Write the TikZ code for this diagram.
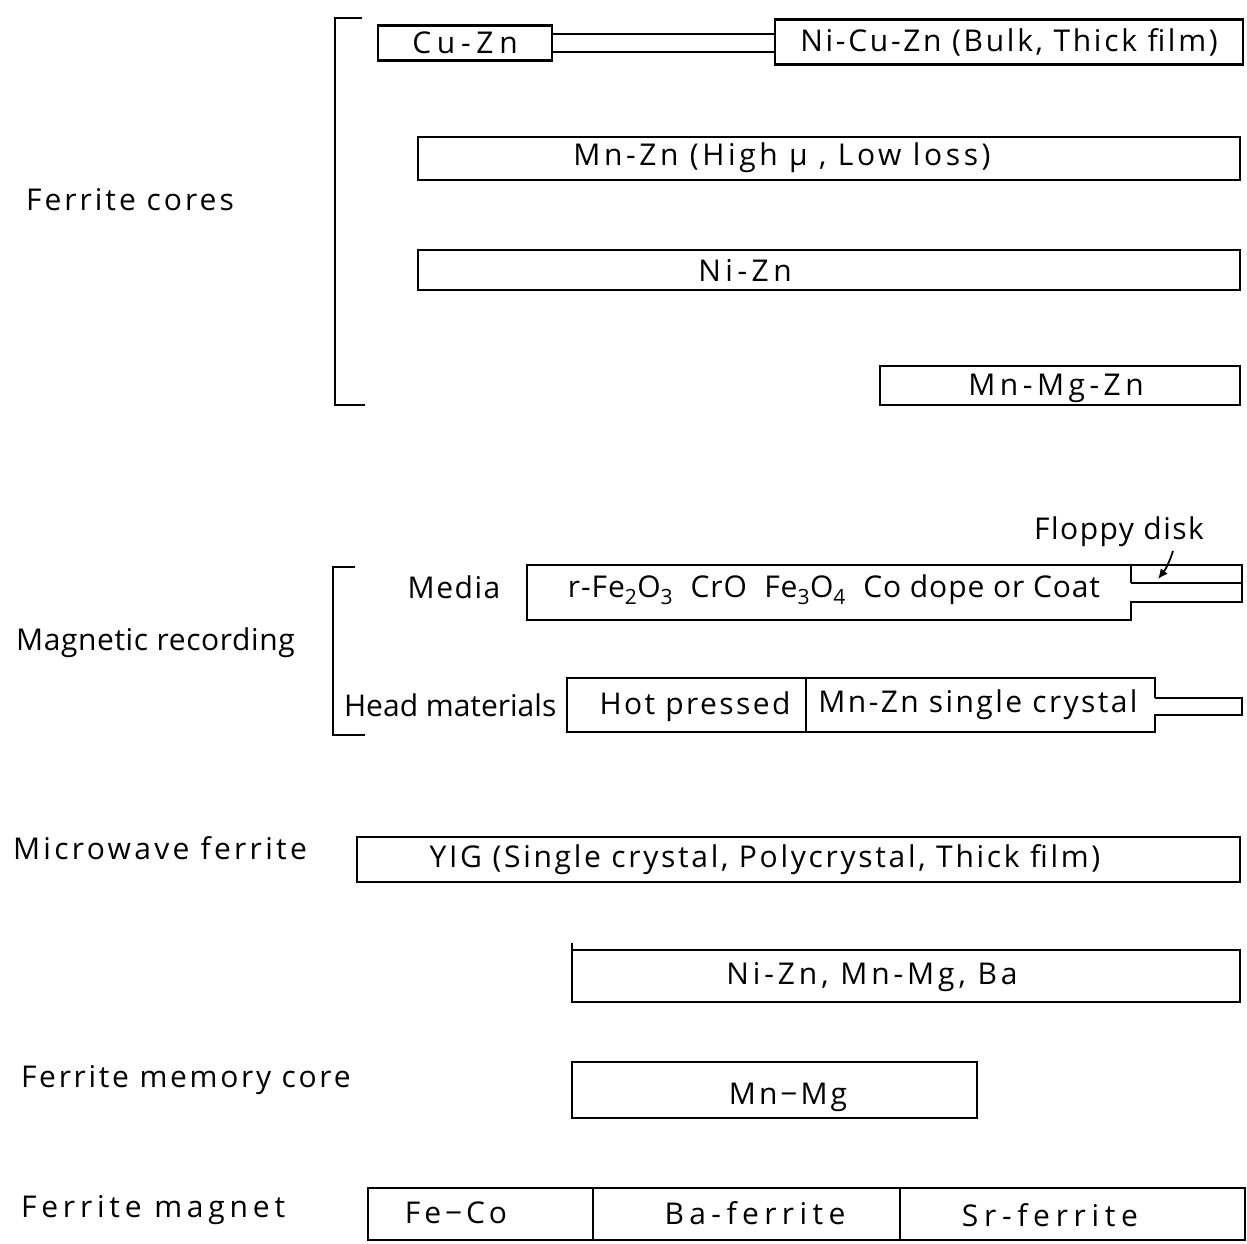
\documentclass[tikz,border=0pt]{standalone}
\usepackage{fontspec}
\setmainfont{Open Sans}
\newcommand\myfs{\fontsize{30}{36}\selectfont}
\usetikzlibrary{arrows.meta}
\begin{document}
\begin{tikzpicture}[x=1pt,y=-1pt,line width=2.2pt,line join=miter,
  box/.style={draw,rectangle,inner sep=0pt},
  lbl/.style={inner sep=0pt,font=\myfs\addfontfeature{LetterSpace=#1}},
  lbl/.default=0]
\useasboundingbox (0,0) rectangle (1247,1244);

% ---------- Ferrite cores ----------
\node[lbl=10,anchor=west] (fc) at (25,200) {Ferrite cores};
\draw (362,18) -- (335,18) -- (335,405) -- (365,405);
\node[box,lbl=19,minimum width=174pt,minimum height=35pt] (cuzn) at (465,43) {Cu-Zn};
\node[box,lbl=9,minimum width=468pt,minimum height=45pt] (nicuzn) at (1009,42) {Ni-Cu-Zn (Bulk, Thick film)};
\draw ([yshift=9pt]cuzn.east) -- ([yshift=9pt]cuzn.east -| nicuzn.west);
\draw ([yshift=-9pt]cuzn.east) -- ([yshift=-9pt]cuzn.east -| nicuzn.west);

\draw (418,137) rectangle (1240,180);
\node[lbl=12] (mnzn) at (782,158) {Mn-Zn (High μ , Low loss)};
\draw (418,250) rectangle (1240,290);
\node[lbl=15] (nizn) at (745,270) {Ni-Zn};
\draw (880,366) rectangle (1240,405);
\node[lbl=15] (mnmgzn) at (1056,388) {Mn-Mg-Zn};

% ---------- Magnetic recording ----------
\node[lbl=2,anchor=west] (mr) at (15,643) {Magnetic recording};
\draw (355,567) -- (333,567) -- (333,735) -- (365,735);
\node[lbl=5] (media) at (454,587) {Media};
\draw (1131,583) -- (1131,565) -- (527,565) -- (527,620) -- (1131,620) -- (1131,602)
      -- (1242,602) -- (1242,565) -- (1131,565);
\draw (1131,583) -- (1242,583);
\node[lbl=3] (mediatxt) at (834,590) {r-Fe\textsubscript{2}O\textsubscript{3}\ \ CrO\ \ Fe\textsubscript{3}O\textsubscript{4}\ \ Co dope or Coat};
\node[lbl=5] (floppy) at (1119,532) {Floppy disk};
\coordinate (fdtip) at (1158,579);
\draw[-{Latex[length=10pt,width=9pt]},line width=1.8pt] (1173,551) to[bend left=10] (fdtip);

\node[lbl=0,anchor=west] (head) at (343,705) {Head materials};
\draw (1155,698) -- (1155,678) -- (567,678) -- (567,732) -- (1155,732) -- (1155,715)
      -- (1242,715) -- (1242,698) -- (1155,698);
\draw (806,678) -- (806,732);
\node[lbl=8] (hot) at (695,707) {Hot pressed};
\node[lbl=8] (mnznsc) at (978,705) {Mn-Zn single crystal};

% ---------- Microwave ferrite ----------
\node[lbl=11,anchor=west] (mw) at (12,848) {Microwave ferrite};
\draw (357,837) rectangle (1240,882);
\node[lbl=9] (yig) at (765,860) {YIG (Single crystal, Polycrystal, Thick film)};
\draw (572,943) -- (572,1002) -- (1240,1002) -- (1240,950) -- (572,950);
\node[lbl=13] (nizn2) at (872,977) {Ni-Zn, Mn-Mg, Ba};

% ---------- Ferrite memory core ----------
\node[lbl=9,anchor=west] (fmc) at (20,1080) {Ferrite memory core};
\draw (572,1062) rectangle (977,1118);
\node[lbl=10] (mnmg) at (788,1097) {Mn−Mg};

% ---------- Ferrite magnet ----------
\node[lbl=16,anchor=west] (fm) at (20,1210) {Ferrite magnet};
\draw (368,1188) rectangle (1245,1240);
\draw (593,1188) -- (593,1240);
\draw (900,1188) -- (900,1240);
\node[lbl=13] (feco) at (456,1213) {Fe−Co};
\node[lbl=18] (baf) at (755,1213) {Ba-ferrite};
\node[lbl=19] (srf) at (1050,1215) {Sr-ferrite};
\end{tikzpicture}
\end{document}
